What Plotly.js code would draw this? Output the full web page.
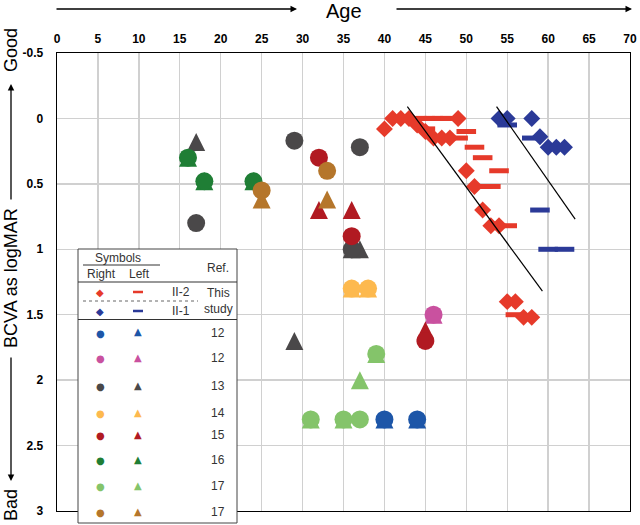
<!DOCTYPE html>
<html>
<head>
<meta charset="utf-8">
<script src="https://cdn.plot.ly/plotly-3.0.1.min.js"></script>
<style>
  html, body { margin: 0; padding: 0; background: #fff; }
  #chart { width: 640px; height: 525px; }
</style>
</head>
<body>
<div id="chart"></div>
<script>
// This study: II-2 (red) and II-1 (blue). Right eye = diamond, left eye = dash.
const II2_RIGHT_AGE = [40, 41, 42, 43, 44, 45, 46, 47, 48, 49, 50, 51, 52, 53, 54, 55, 56, 57, 58];
const II2_RIGHT_VA  = [0.08, 0, 0, 0, 0.05, 0.1, 0.15, 0.15, 0.15, 0, 0.4, 0.52, 0.7, 0.82, 0.82, 1.4, 1.4, 1.52, 1.52];
const II2_LEFT_AGE  = [44, 45, 46, 47, 48, 45, 49, 50, 51, 52, 54, 52, 53, 55, 56];
const II2_LEFT_VA   = [0, 0, 0, 0, 0, 0.08, 0.15, 0.1, 0.22, 0.3, 0.4, 0.52, 0.52, 0.82, 1.5];
const II1_RIGHT_AGE = [54, 55, 58, 59, 60, 61, 62];
const II1_RIGHT_VA  = [0, 0, 0, 0.14, 0.22, 0.22, 0.22];
const II1_LEFT_AGE  = [55, 58, 59, 60, 62];
const II1_LEFT_VA   = [0.05, 0.15, 0.7, 1.0, 1.0];

// regression lines (end points)
const FIT_II2_AGE = [42.8, 59.3];
const FIT_II2_VA  = [-0.09, 1.32];
const FIT_II1_AGE = [53.7, 63.3];
const FIT_II1_VA  = [-0.09, 0.77];

// published cases, one entry per legend row
const REF_LABELS = ["12", "12", "13", "14", "15", "16", "17", "17"];
const REF_RIGHT_AGE = [[40, 44], [46], [17, 29, 37, 36], [36, 38], [32, 36, 45], [16, 18, 24], [31, 35, 37, 39], [25, 33]];
const REF_RIGHT_VA  = [[2.3, 2.3], [1.5], [0.8, 0.17, 0.22, 1.0], [1.3, 1.3], [0.3, 0.9, 1.7], [0.3, 0.48, 0.48], [2.3, 2.3, 2.3, 1.8], [0.55, 0.4]];
const REF_LEFT_AGE  = [[40, 44], [46], [17, 29, 36, 37], [36, 38], [32, 36, 45], [16, 18, 24], [31, 35, 37, 39], [25, 33]];
const REF_LEFT_VA   = [[2.3, 2.3], [1.5], [0.18, 1.7, 1.0, 1.0], [1.3, 1.3], [0.7, 0.7, 1.62], [0.3, 0.48, 0.48], [2.3, 2.3, 2.0, 1.8], [0.62, 0.62]];

const Y_RANGE = [3, -0.5];
const Y_TICKS = [-0.5, 0, 0.5, 1, 1.5, 2, 2.5, 3];
const Y_TICK_TEXT = ["-0.5", "0", "0.5", "1", "1.5", "2", "2.5", "3"];

// styles
const REF_COLORS = ["#1d56a8", "#c9519f", "#4a4849", "#fdb94e", "#b11a22", "#1f7e35", "#84c46a", "#b5762b"];
const RED = "#e63a2a";
const BLUE = "#2b3a98";
const FONT = "Liberation Sans, Arial, sans-serif";
const TRI_SIZE = 18;

// pixel frame of the plot area, used to place the hand-drawn legend table
const FRAME = { l: 57, r: 630, t: 53, b: 511 };
function px(x) { return (x - FRAME.l) / (FRAME.r - FRAME.l); }
function py(y) { return (FRAME.b - y) / (FRAME.b - FRAME.t); }

// "arrow-up" hangs from its tip, so the triangles get their own y axis
// moved up by half a marker; that centres each triangle on its value.
const TRI_SHIFT = (TRI_SIZE / 2) / (FRAME.b - FRAME.t) * (Y_RANGE[0] - Y_RANGE[1]);

function markerTrace(x, y, symbol, color, size, yaxis) {
    return {
        x, y, yaxis: yaxis || "y2", type: "scatter", mode: "markers", hoverinfo: "skip",
        marker: { symbol, size, color, line: { width: 0 } }
    };
}

function dashTrace(x, y, color) {
    return {
        x, y, yaxis: "y2", type: "scatter", mode: "markers", hoverinfo: "skip",
        marker: { symbol: "line-ew", size: 14, color, line: { width: 5, color } }
    };
}

function lineTrace(x, y) {
    return { x, y, yaxis: "y2", type: "scatter", mode: "lines", hoverinfo: "skip", line: { color: "#000", width: 1.2 } };
}

function buildTraces() {
    const traces = [];
    // triangles first (bottom subplot), circles and the rest on the overlay
    REF_LABELS.forEach((_, i) => {
        traces.push(markerTrace(REF_LEFT_AGE[i], REF_LEFT_VA[i], "arrow-up", REF_COLORS[i], TRI_SIZE, "y"));
    });
    REF_LABELS.forEach((_, i) => {
        traces.push(markerTrace(REF_RIGHT_AGE[i], REF_RIGHT_VA[i], "circle", REF_COLORS[i], 18));
    });
    traces.push(dashTrace(II2_LEFT_AGE, II2_LEFT_VA, RED));
    traces.push(markerTrace(II2_RIGHT_AGE, II2_RIGHT_VA, "diamond", RED, 13));
    traces.push(dashTrace(II1_LEFT_AGE, II1_LEFT_VA, BLUE));
    traces.push(markerTrace(II1_RIGHT_AGE, II1_RIGHT_VA, "diamond", BLUE, 13));
    traces.push(lineTrace(FIT_II2_AGE, FIT_II2_VA));
    traces.push(lineTrace(FIT_II1_AGE, FIT_II1_VA));
    return traces;
}

function text(x, y, s, opts = {}) {
    return Object.assign({
        xref: "paper", yref: "paper", x: px(x), y: py(y), text: s, showarrow: false,
        xanchor: "center", yanchor: "middle",
        font: { family: FONT, size: 12, color: "#333" }
    }, opts);
}

function glyph(x, y, ch, color, size) {
    return text(x, y, ch, { font: { family: "DejaVu Sans", size, color } });
}

function arrow(hx, hy, tx, ty) {
    return {
        xref: "paper", yref: "paper", x: px(hx), y: py(hy), ax: tx - hx, ay: ty - hy,
        text: "", showarrow: true, arrowhead: 2, arrowsize: 1, arrowwidth: 1.3, arrowcolor: "#000"
    };
}

function hline(x0, x1, y, color, width, dash) {
    return {
        type: "line", xref: "paper", yref: "paper", layer: "above",
        x0: px(x0), x1: px(x1), y0: py(y), y1: py(y),
        line: { color, width, dash: dash || "solid" }
    };
}

function buildLegend() {
    const shapes = [
        {
            type: "rect", xref: "paper", yref: "paper", layer: "above",
            x0: px(78), x1: px(237), y0: py(249), y1: py(523),
            fillcolor: "#fff", line: { color: "#444", width: 1 }
        },
        hline(83, 160, 265, "#333", 1),
        hline(78, 237, 282, "#333", 1.2),
        hline(83, 198, 301, "#666", 1, "dot"),
        hline(78, 237, 319.5, "#333", 1.2),
        hline(133, 143, 292, RED, 2.5),
        hline(133, 143, 311, BLUE, 2.5)
    ];
    const ann = [
        text(118, 258, "Symbols"),
        text(101, 274, "Right"),
        text(139, 274, "Left"),
        text(218, 268, "Ref."),
        text(181, 292, "II-2"),
        text(181, 311, "II-1"),
        text(218, 293, "This"),
        text(218, 309, "study"),
        glyph(100, 292, "◆", RED, 10),
        glyph(100, 311, "◆", BLUE, 10)
    ];
    const rowY = [333, 358, 386, 413, 435, 460, 486, 512];
    REF_LABELS.forEach((lab, i) => {
        ann.push(glyph(100, rowY[i], "●", REF_COLORS[i], 10));
        ann.push(glyph(138, rowY[i] - 1, "▲", REF_COLORS[i], 10));
        ann.push(text(218, rowY[i], lab));
    });
    return { shapes, ann };
}

function main() {
    const legend = buildLegend();
    const axisFont = { family: FONT, size: 12, color: "#000", weight: "bold" };
    const titleFont = { family: FONT, size: 18, color: "#000" };
    const annotations = legend.ann.concat([
        text(344, 11, "Age", { font: { family: FONT, size: 20, color: "#000" } }),
        arrow(297, 9, 55, 9),
        arrow(632, 9, 395, 9),
        text(11, 50, "Good", { textangle: -90, font: titleFont }),
        text(11, 278, "BCVA as logMAR", { textangle: -90, font: titleFont }),
        text(11, 505, "Bad", { textangle: -90, font: titleFont }),
        arrow(11, 84, 11, 201),
        arrow(11, 481, 11, 356)
    ]);

    const layout = {
        width: 640, height: 525,
        margin: { l: FRAME.l, r: 640 - FRAME.r, t: FRAME.t, b: 525 - FRAME.b },
        paper_bgcolor: "#fff", plot_bgcolor: "#fff",
        showlegend: false,
        xaxis: {
            range: [0, 70], side: "top", tick0: 0, dtick: 5,
            showgrid: true, gridcolor: "#d0d0d0", gridwidth: 1.3, zeroline: false,
            showline: true, mirror: true, linecolor: "#000", linewidth: 1.3,
            ticks: "", ticklabelstandoff: 4, tickfont: axisFont, fixedrange: true
        },
        yaxis: {
            range: [Y_RANGE[0] + TRI_SHIFT, Y_RANGE[1] + TRI_SHIFT],
            showgrid: false, zeroline: false, showline: false,
            showticklabels: false, ticks: "", fixedrange: true
        },
        yaxis2: {
            overlaying: "y", side: "left",
            range: Y_RANGE, tickvals: Y_TICKS, ticktext: Y_TICK_TEXT,
            showgrid: true, gridcolor: "#d0d0d0", gridwidth: 1.3, zeroline: false,
            showline: true, mirror: true, linecolor: "#000", linewidth: 1.3,
            ticks: "", ticklabelstandoff: 10, tickfont: axisFont, fixedrange: true
        },
        shapes: legend.shapes,
        annotations
    };

    Plotly.newPlot("chart", buildTraces(), layout, { staticPlot: true });
}

main();
</script>
</body>
</html>
